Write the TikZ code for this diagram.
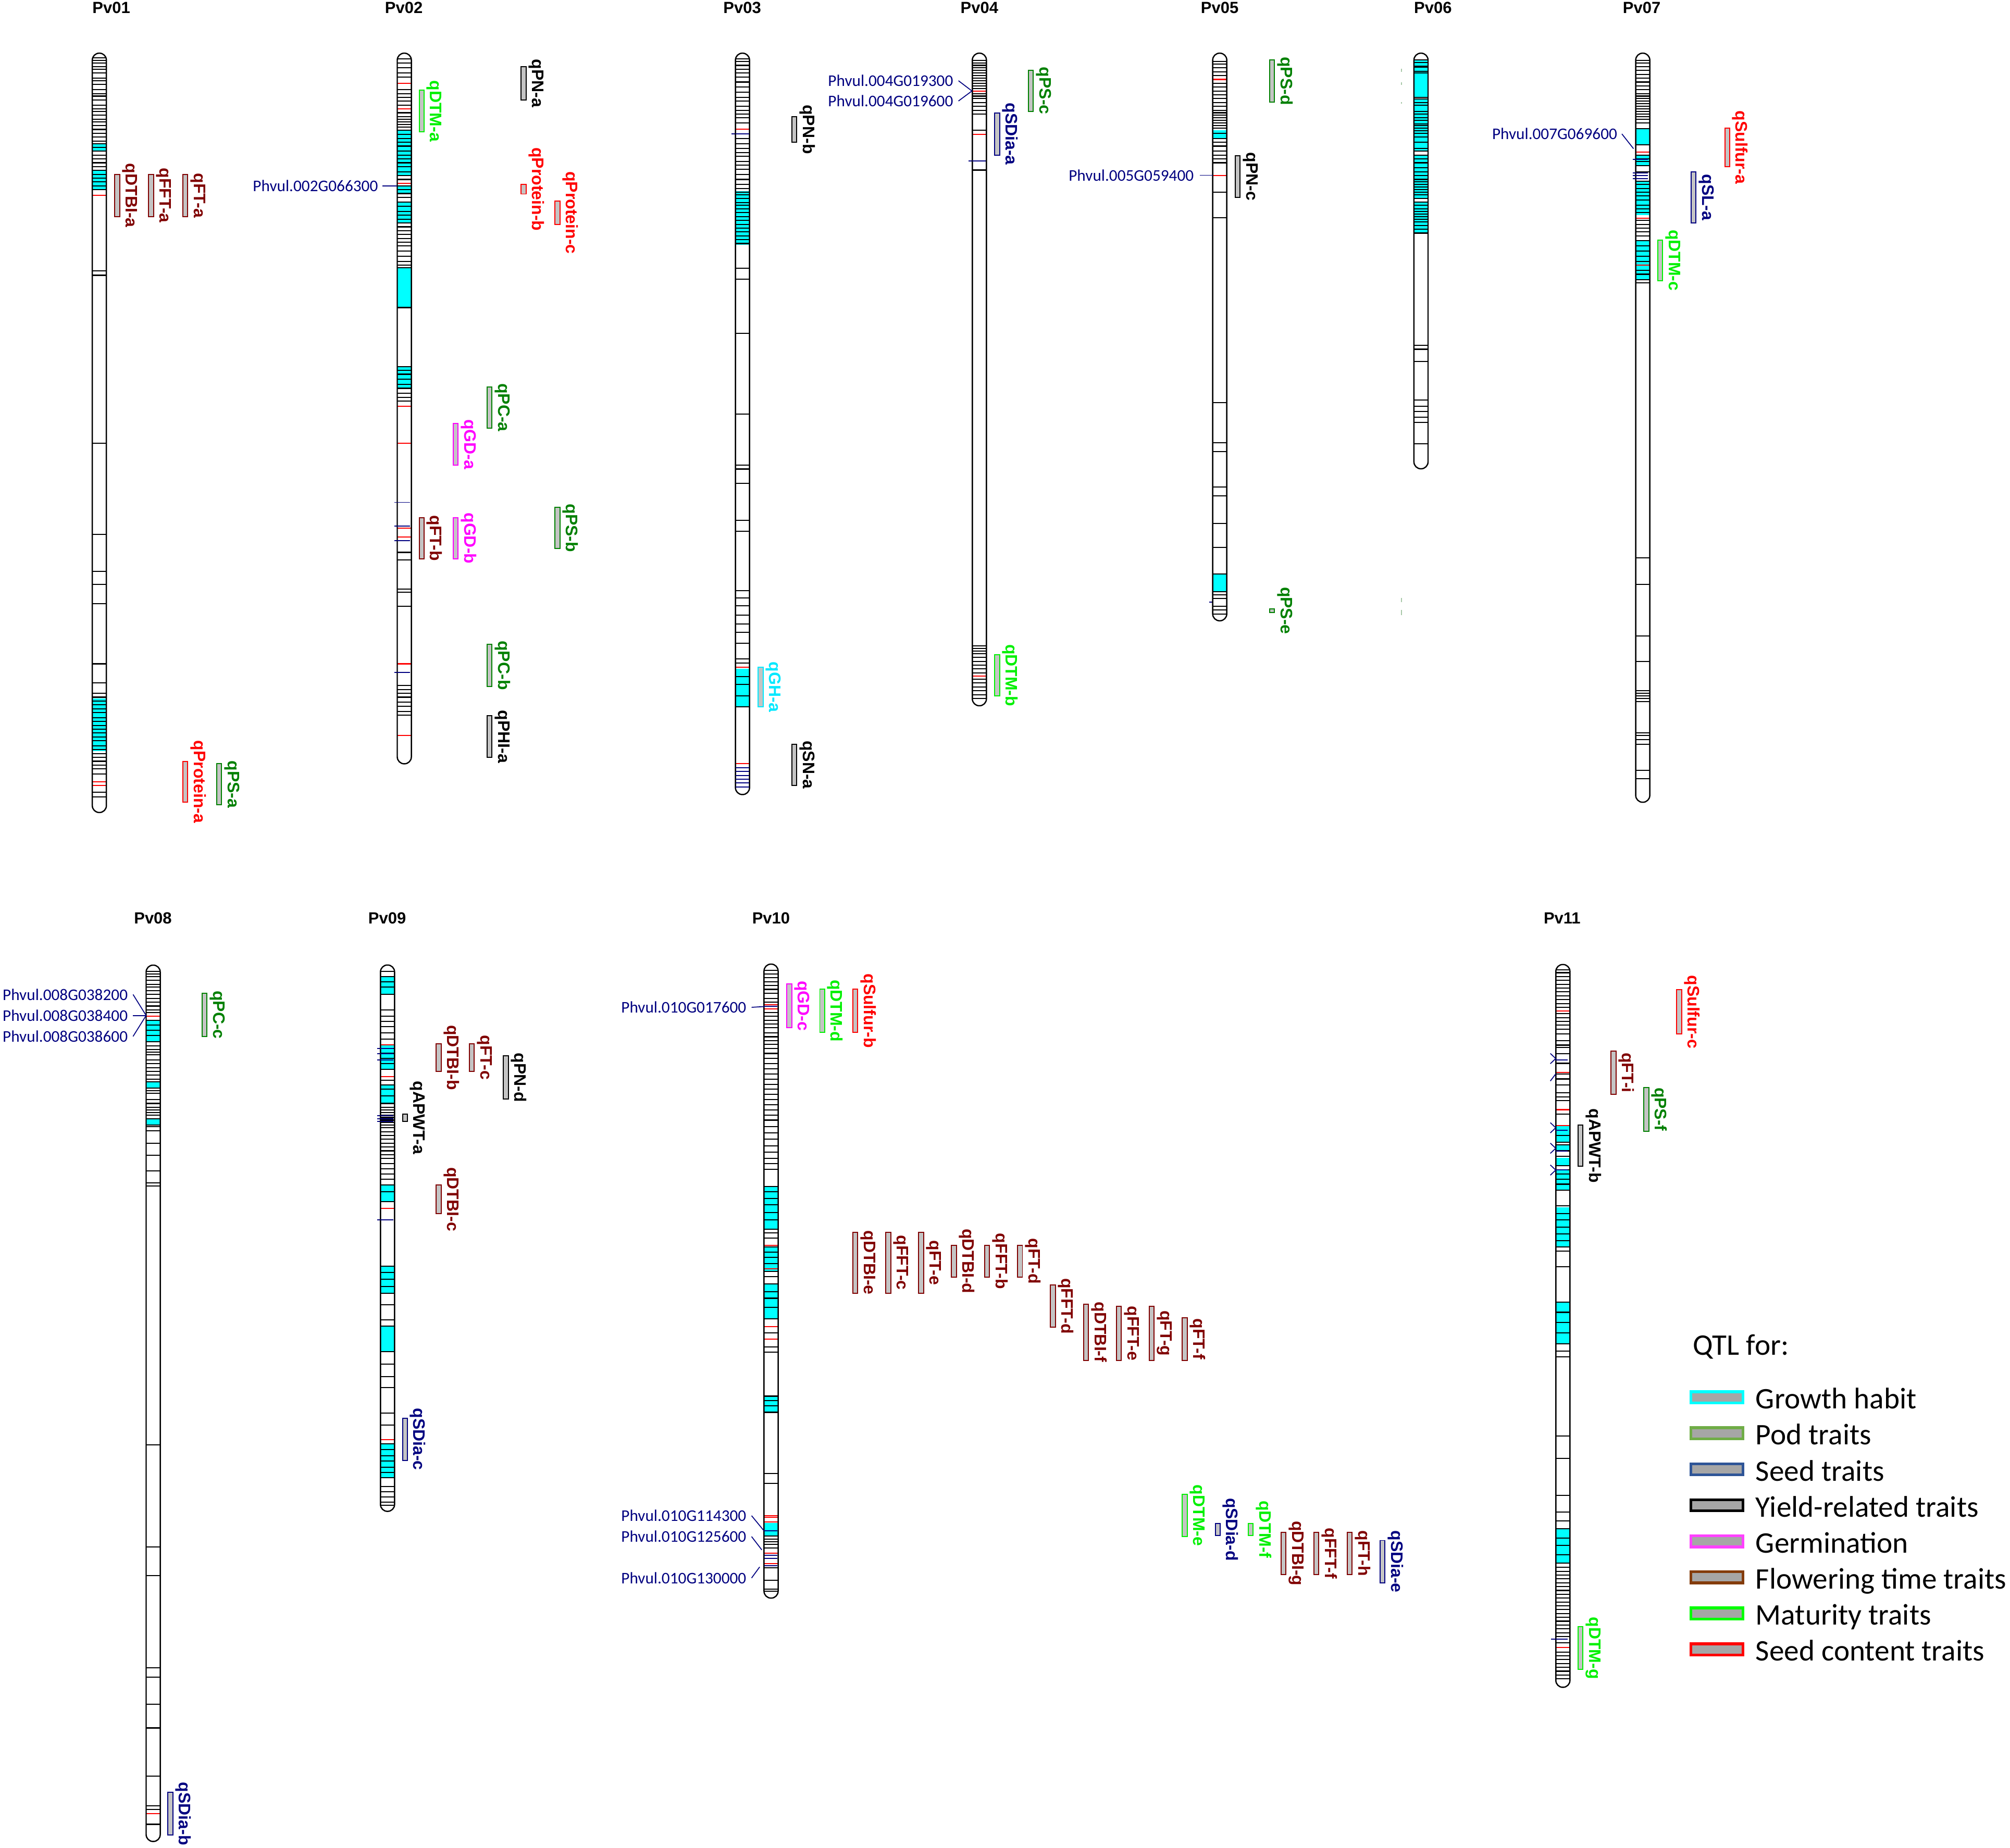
\documentclass[tikz,border=0pt]{standalone}
\usepackage{fontspec}
\setmainfont{Liberation Sans}
\newfontfamily\calib{Carlito}
\definecolor{fl}{HTML}{800000}
\definecolor{sc}{HTML}{FF0000}
\definecolor{pod}{HTML}{008000}
\definecolor{mat}{HTML}{00F000}
\definecolor{seed}{HTML}{000080}
\definecolor{yld}{HTML}{000000}
\definecolor{germ}{HTML}{FF00FF}
\definecolor{gh}{HTML}{00E8FF}
\definecolor{chcyan}{HTML}{00FFFF}
\definecolor{navyc}{HTML}{000080}
\definecolor{barfill}{HTML}{C4C4C4}
\definecolor{legfill}{HTML}{A6A6A6}
\definecolor{lgh}{HTML}{00FFFF}
\definecolor{lpod}{HTML}{70AD47}
\definecolor{lseed}{HTML}{2F5597}
\definecolor{lyld}{HTML}{000000}
\definecolor{lgerm}{HTML}{FF40FF}
\definecolor{lfl}{HTML}{843C0C}
\definecolor{lmat}{HTML}{00FF00}
\definecolor{lsc}{HTML}{FF0000}
\definecolor{tickc}{HTML}{A8C8A8}
\tikzset{
  stripe/.style={line width=0.85pt, black},
  redstripe/.style={line width=0.85pt, red},
  navystripe/.style={line width=0.8pt, navyc},
  chromline/.style={line width=1pt, black},
  qbar/.style={line width=0.8pt, fill=barfill},
  qlab/.style={rotate=-90, anchor=south, inner sep=0pt, font=\fontsize{13}{13}\selectfont\bfseries},
  mk/.style={anchor=east, inner sep=0pt, text=navyc, font=\calib\fontsize{12.7}{12.7}\selectfont},
  mkline/.style={line width=0.7pt, navyc},
  chrlab/.style={anchor=base, inner sep=0pt, font=\fontsize{12.6}{12.6}\selectfont\bfseries},
  legtext/.style={anchor=base west, inner sep=0pt, font=\calib\fontsize{23.3}{24}\selectfont},
  legbox/.style={line width=2.2pt, fill=legfill},
}
\newcommand\chr[6]{%
  \begin{scope}
    \clip[rounded corners=5.4pt] ({#1-5.5},#2) rectangle ({#1+5.5},#3);
    \fill[white] ({#1-6},#2) rectangle ({#1+6},#3);
    \foreach \a/\b in {#4} {\fill[chcyan] ({#1-6},\a) rectangle ({#1+6},\b);}
    \foreach \yy in {#5} {\draw[stripe] ({#1-6},\yy) -- ({#1+6},\yy);}
    \foreach \yy in {#6} {\draw[redstripe] ({#1-6},\yy) -- ({#1+6},\yy);}
  \end{scope}
  \draw[chromline, rounded corners=5.4pt] ({#1-5.5},#2) rectangle ({#1+5.5},#3);
}
\newcommand\qtl[5]{%
  \draw[qbar, draw=#2] (#3,#4) rectangle ({#3+3.8},#5);
  \node[qlab, text=#2] (#1) at ({#3+5.8},{(#4+#5)/2}) {#1};
}
\newcommand\legitem[3]{%
  \draw[legbox, draw=#2] (1319.1,{#1-4.35}) rectangle (1359.6,{#1+4.35});
  \node[legtext] (leg#1) at (1369.4,{#1+9}) {#3};
}
\begin{document}
\begin{tikzpicture}[x=1pt,y=-1pt]
\useasboundingbox (0,0) rectangle (1568,1442);
\fill[white] (0,0) rectangle (1568,1442);

% ---------------- chromosome labels
\node[chrlab] (Pv01) at (86.8,10.4) {Pv01};
\node[chrlab] (Pv02) at (315,10.4) {Pv02};
\node[chrlab] (Pv03) at (579,10.4) {Pv03};
\node[chrlab] (Pv04) at (764,10.4) {Pv04};
\node[chrlab] (Pv05) at (951.5,10.4) {Pv05};
\node[chrlab] (Pv06) at (1117.8,10.4) {Pv06};
\node[chrlab] (Pv07) at (1280.7,10.4) {Pv07};
\node[chrlab] (Pv08) at (119.3,720.8) {Pv08};
\node[chrlab] (Pv09) at (302,720.8) {Pv09};
\node[chrlab] (Pv10) at (601.5,720.8) {Pv10};
\node[chrlab] (Pv11) at (1218.6,720.8) {Pv11};

% ---------------- Pv01
\chr{77.5}{41.5}{634}{112/118,133/148,545/586}
{45,47,49,52,54,57,61,63,66,70,73,75,78,82,85,87,90,93,95,98,101,104,107,110,112,115,118,121,124,127,130,133,136,139,142,145,148,211.5,214.8,346,417,446,456,471,518,533,541,544,547,550,553,556,560,563,566,569,572,575,578,582,585,588,591,594,597,600,604,618,622}
{152.5,610,613}

% ---------------- Pv02
\foreach \yy in {392,410.5,422,524.6} {\draw[navystripe] (307.8,\yy) -- (320,\yy);}
\chr{315.4}{41.5}{596}{101.6/137,145/151,157.6/174,209/240,286/303}
{46,49,53,57,60,70,73,76,79,82,88,91,93,95,97,99,101.6,105,108,111,114,118,121,124,127,130,134,137,140,145,148,151,154,157.6,161,165,168,171,174,177,180,183,186,189,192,196,200,204,207,209,240,286,289,292,296,300,303,307,310,313,431,437,459.5,462,473,535,538,541,544,548,551,555,558}
{65,85,143,317,346,412,419,518,574}
\foreach \yy in {392,410.5,422,524.6} {\draw[navystripe] (309.8,\yy) -- (320,\yy);}

% ---------------- Pv03
\draw[navystripe] (570.5,104.5) -- (584,104.5);
\chr{579.2}{41.5}{620}{149/191,521.7/551.6}
{46,48,51,54,57,60,64,68,72,76,79,83,86,89,92,96,108,112,116,119,122,126,129,132,136,140,144,147,150,152,155,158,160,163,166,169,172,175,178,181,184,187,190,209.4,217.7,260,323,363,366,377,406,414.7,461,466.5,472.8,480,487,493.5,502,514,517.5,528,534,543,551.6}
{100.8,520.5,596}
\foreach \yy in {104.5,599,602,605,608,611,614} {\draw[navystripe] (573.8,\yy) -- (584.5,\yy);}

% ---------------- Pv04
\draw[navystripe] (755.5,125.7) -- (769,125.7);
\chr{764}{41.5}{550.7}{0/0}
{47,49,51,53,55,57,59,61,63,65,67,69,73,75,77,80,83,86,89,101.6,132.7,504,506,508,510,513,516,519,522,525,530,533,536,539,542,545}
{71,105,527.5}
\draw[navystripe] (758.2,125.7) -- (769,125.7);

% ---------------- Pv05
\draw[navystripe] (943.5,470) -- (956,470);
\chr{951.5}{41.5}{484.4}{101.6/107.8,448/461.6}
{48,50,53,56,59,65,68,71,74,77,80,83,86,88,90,92,94,96,98,100,104,108,111,114,118,121,124,127,150,170,314,345.4,352.5,380,387,408.5,427,448,461.6,464,467,473,476,479}
{62,136.8}

% ---------------- Pv06
\chr{1108.5}{41.5}{365.8}{46.8/75.9,77.2/117.9,121.1/155,157.8/182.2}
{46.8,48.8,51.5,52.6,55.5,56.9,75.9,77.2,80,82,87,89,92,94,96.6,98,100,102,104,106.8,111,115.8,117.9,121.1,124,127,131,134,137,140,142,144,146,148,150,152,155,157.8,160,163,165,167,169,171,173,176,179,181.5,182.2,269.6,272.5,282,312,317,321,325.5,329.7,346.3}
{0}
\foreach \a/\b in {53.5/56.2,64.2/66.3,79.7/80.9,466.5/470,476/480} {\draw[tickc, line width=0.6pt] (1093.3,\a) -- (1093.3,\b);}

% ---------------- Pv07
\foreach \yy in {124.4,134.8,137,139.5} {\draw[navystripe] (1273.7,\yy) -- (1285.5,\yy);}
\chr{1281.5}{41.5}{626}{100.3/113.1,120.6/129.4,141.5/168,187.6/218.1}
{47,49,52,55,58,61,64,67,70,73,75,77,79,81,83,85,87,89,91,93,96,100.3,113.1,121,124,126,129.4,134,141.5,144,147,150,153,156,160,163,166,172,175,178,181,184,187.6,192,196,200,204,211,214,218.1,220.7,435.4,456,496.4,516.3,539,541,543,545,547.4,572,574,577,580.6,601,607.5}
{118.5,170.3,206.9}
\foreach \yy in {124.4,134.8,137,139.5} {\draw[navystripe] (1275.8,\yy) -- (1285.5,\yy);}

% ---------------- Pv08
\chr{119.5}{753.1}{1436.9}{796/813,844/849,873/877.7}
{758,760,762,765,768,770,773,776,779,782,785,788,790,796,800,804,808,813,816,819,821,823,827,830,833,836,839,842,844,849,851,853,858,861,864,866,868,870,873,877.7,879,882.4,892,901.6,913.5,923,925.5,1127.6,1207,1229.5,1301.4,1308.5,1330,1348.3,1386,1409,1412,1423.5}
{793,1415}

% ---------------- Pv09
\foreach \yy in {818,822,827,870.5,873,875,952} {\draw[navystripe] (294.3,\yy) -- (306.7,\yy);}
\chr{302.3}{753}{1179.3}{762/776,815/834.5,846.5/861,924.6/937.5,988/1009,1034.7/1054.8,1126.6/1153}
{758,762,766,770,776,788,793,797,801,806,811,818,822,826,830,834.5,843,846.5,850,855,861,864,866,868,870,872,874,876,878,880,883,886,889,892,895,898,901,904,908,912,916,920,924.6,930,937.5,988,993,998,1004,1009,1018,1030,1034.7,1054.8,1064.4,1074,1082.6,1102.6,1112,1126.6,1131,1136,1140,1145,1149,1153,1160,1164,1168,1172,1174.5}
{815.4,840,943,1123.2}
\foreach \yy in {818,822,827,870.5,873,875,952} {\draw[navystripe] (296.8,\yy) -- (306.7,\yy);}

% ---------------- Pv10
\chr{601.5}{752.3}{1247}{926/959,973/992,1002/1029,1089.4/1102,1188.3/1198.1}
{757,760,763,766,769,772,775,779,782,790,793,796,799,802,806,809,812,815,818,822,826,830,834,838,842,846,850,854,858,862,866,870,874,879,884,889,894,899,904,908,912.5,926,930,935,940,946,952,959,962,966,973,977,981,986,992,996,1002,1008,1013,1020,1029,1040,1051,1055,1089.4,1093,1097,1102,1149.7,1157.5,1198.7,1201,1203,1205,1208,1223.4,1233,1240,1241.5}
{784,787.3,971.6,990,1035,1045,1182.6,1183.9,1187.7,1211.9,1220}
\foreach \yy in {785.4,1194.5,1213.5,1216,1221.6} {\draw[navystripe] (596.4,\yy) -- (606.4,\yy);}

% ---------------- Pv11
\draw[navystripe] (1210,1279) -- (1224,1279);
\chr{1219.2}{752.6}{1316.6}{878.8/891.3,893.3/898,903.4/909.5,912.9/928.8,942/973,1016/1048.7,1193/1219.6}
{756.7,759,762,765,768,771,774,777,780,783,786,791,794,797,800,803,806.7,812.2,815.5,817.2,822.3,829.7,837.9,841.9,846.6,852.8,856.1,858.8,869.4,885.9,891.3,893.3,898,902.1,909.5,912.9,916,920,924,928.8,941,947,952,957.5,963,968,973,976.4,988.3,1016,1024,1032,1040,1048.7,1054.4,1058.8,1120.5,1138,1166.7,1180,1186.6,1193,1200,1206,1213,1219.6,1223,1226,1229,1232,1235,1238,1241,1244,1247,1250,1253,1256,1259,1262,1265,1268,1271,1274,1277,1282,1289,1292,1295,1298,1301,1304,1307,1310}
{788.7,836.9,865.9,878.4,1285.7}
\foreach \yy in {826.9,881.8,898,912.9,1279} {\draw[navystripe] (1213.6,\yy) -- (1223,\yy);}
\foreach \yy in {826,880,896,913} {\draw[mkline] (1209.4,{\yy-4}) -- (1213.6,\yy) -- (1209.4,{\yy+4});}
\draw[mkline] (1213.6,838) -- (1209.4,843.5);

% ---------------- marker labels and connectors
\node[mk] (m002) at (295,145) {Phvul.002G066300};
\coordinate (c002) at (309.8,145);
\draw[mkline] ([xshift=3.5pt]m002.east) -- (c002);

\node[mk] (m0193) at (743.7,63) {Phvul.004G019300};
\node[mk] (m0196) at (743.7,78.8) {Phvul.004G019600};
\coordinate (c004) at (758.2,71);
\draw[mkline] ([xshift=4pt]m0193.east) -- (c004);
\draw[mkline] ([xshift=4pt]m0196.east) -- (c004);

\node[mk] (m005) at (931.4,136.8) {Phvul.005G059400};
\coordinate (c005) at (946,136.8);
\draw[mkline] ([xshift=4.4pt]m005.east) -- (c005);

\node[mk] (m007) at (1261.7,104.5) {Phvul.007G069600};
\coordinate (c007) at (1274.3,116);
\draw[mkline] ([xshift=3.5pt]m007.east) -- (c007);

\node[mk] (m0382) at (99.8,776) {Phvul.008G038200};
\node[mk] (m0384) at (99.8,792.4) {Phvul.008G038400};
\node[mk] (m0386) at (99.8,808.7) {Phvul.008G038600};
\coordinate (c008) at (114,792.4);
\draw[mkline] ([xshift=4pt]m0382.east) -- (c008);
\draw[mkline] ([xshift=4pt]m0384.east) -- (c008);
\draw[mkline] ([xshift=4pt]m0386.east) -- (c008);

\node[mk] (m0176) at (582.3,786) {Phvul.010G017600};
\coordinate (c0176) at (596.4,785.4);
\draw[mkline] ([xshift=4pt]m0176.east) -- (c0176);

\node[mk] (m1143) at (582.3,1182.7) {Phvul.010G114300};
\node[mk] (m1256) at (582.3,1199) {Phvul.010G125600};
\node[mk] (m1300) at (582.3,1231.3) {Phvul.010G130000};
\coordinate (c1143) at (596,1194.5);
\coordinate (c1256) at (594.3,1209.4);
\coordinate (c1300) at (592.6,1222.7);
\draw[mkline] ([xshift=4pt]m1143.east) -- (c1143);
\draw[mkline] ([xshift=4pt]m1256.east) -- (c1256);
\draw[mkline] ([xshift=4pt]m1300.east) -- (c1300);

% ---------------- QTL bars and labels
% Pv01
\qtl{qDTBI-a}{fl}{89.6}{136}{169}
\qtl{qFFT-a}{fl}{116}{136}{169}
\qtl{qFT-a}{fl}{142.5}{136}{169}
\qtl{qProtein-a}{sc}{142.5}{594}{626}
\qtl{qPS-a}{pod}{169}{596}{628}
% Pv02
\qtl{qDTM-a}{mat}{327}{70.5}{103}
\qtl{qPN-a}{yld}{406.5}{52}{78}
\qtl{qProtein-b}{sc}{406.5}{144}{151.4}
\qtl{qProtein-c}{sc}{433}{157}{175}
\qtl{qPC-a}{pod}{380}{302}{334}
\qtl{qGD-a}{germ}{353.6}{330.5}{363}
\qtl{qFT-b}{fl}{327}{404}{436}
\qtl{qGD-b}{germ}{353.6}{404}{436}
\qtl{qPS-b}{pod}{433}{396}{428}
\qtl{qPC-b}{pod}{380}{502.6}{535.8}
\qtl{qPHI-a}{yld}{380}{558.6}{591}
% Pv03
\qtl{qPN-b}{yld}{617.7}{91}{111}
\qtl{qGH-a}{gh}{591.5}{520.5}{551.6}
\qtl{qSN-a}{yld}{617.7}{580.6}{613}
% Pv04
\qtl{qPS-c}{pod}{802.3}{54.7}{87}
\qtl{qSDia-a}{seed}{776}{88}{121}
\qtl{qDTM-b}{mat}{776}{511}{543}
% Pv05
\qtl{qPS-d}{pod}{990.4}{46.9}{79.6}
\qtl{qPN-c}{yld}{963.5}{121.5}{154}
\qtl{qPS-e}{pod}{990.4}{475}{478}
% Pv07
\qtl{qSulfur-a}{sc}{1345.5}{100}{130}
\qtl{qSL-a}{seed}{1319.3}{134}{174}
\qtl{qDTM-c}{mat}{1293.2}{187.2}{219}
% Pv08
\qtl{qPC-c}{pod}{157.6}{775}{808.7}
\qtl{qSDia-b}{seed}{131}{1398.5}{1432}
% Pv09
\qtl{qDTBI-b}{fl}{340.3}{814.4}{836}
\qtl{qFT-c}{fl}{366.2}{814.4}{836}
\qtl{qPN-d}{yld}{392.7}{824}{857.5}
\qtl{qAPWT-a}{yld}{314}{869.5}{875}
\qtl{qDTBI-c}{fl}{340.3}{924.6}{947}
\qtl{qSDia-c}{seed}{314}{1106.5}{1139.5}
% Pv10
\qtl{qGD-c}{germ}{613.8}{767.9}{801.7}
\qtl{qDTM-d}{mat}{639.5}{771.8}{805.6}
\qtl{qSulfur-b}{sc}{665.2}{771.8}{805.6}
\qtl{qDTBI-e}{fl}{665.2}{961.5}{1009}
\qtl{qFFT-c}{fl}{691}{961.5}{1009}
\qtl{qFT-e}{fl}{716.6}{961.5}{1009}
\qtl{qDTBI-d}{fl}{742.3}{971.6}{996.5}
\qtl{qFFT-b}{fl}{768}{971.6}{996.5}
\qtl{qFT-d}{fl}{793.8}{971.6}{996.5}
\qtl{qFFT-d}{fl}{819.5}{1002.7}{1035.4}
\qtl{qDTBI-f}{fl}{845.2}{1017.5}{1061.4}
\qtl{qFFT-e}{fl}{871}{1019.4}{1061.4}
\qtl{qFT-g}{fl}{896.6}{1019.4}{1061.4}
\qtl{qFT-f}{fl}{922.3}{1028.4}{1061.4}
\qtl{qDTM-e}{mat}{922.3}{1166}{1199}
\qtl{qSDia-d}{seed}{948}{1188.6}{1198.3}
\qtl{qDTM-f}{mat}{973.8}{1188.6}{1198.3}
\qtl{qDTBI-g}{fl}{999.4}{1195.6}{1228.6}
\qtl{qFFT-f}{fl}{1025}{1195.6}{1228.6}
\qtl{qFT-h}{fl}{1050.9}{1195.6}{1228.6}
\qtl{qSDia-e}{seed}{1076.6}{1202}{1235}
% Pv11
\qtl{qSulfur-c}{sc}{1308}{772.4}{806.8}
\qtl{qFT-i}{fl}{1256.8}{820}{854}
\qtl{qPS-f}{pod}{1282.4}{848.6}{882.6}
\qtl{qAPWT-b}{yld}{1231}{878}{910}
\qtl{qDTM-g}{mat}{1231}{1269.4}{1302.5}

% ---------------- legend
\node[legtext] (qtlfor) at (1320.5,1057.5) {QTL for:};
\legitem{1090.3}{lgh}{Growth habit}
\legitem{1118.4}{lpod}{Pod traits}
\legitem{1146.5}{lseed}{Seed traits}
\legitem{1174.6}{lyld}{Yield-related traits}
\legitem{1202.7}{lgerm}{Germination}
\legitem{1230.8}{lfl}{Flowering time traits}
\legitem{1258.9}{lmat}{Maturity traits}
\legitem{1287}{lsc}{Seed content traits}
\end{tikzpicture}
\end{document}
